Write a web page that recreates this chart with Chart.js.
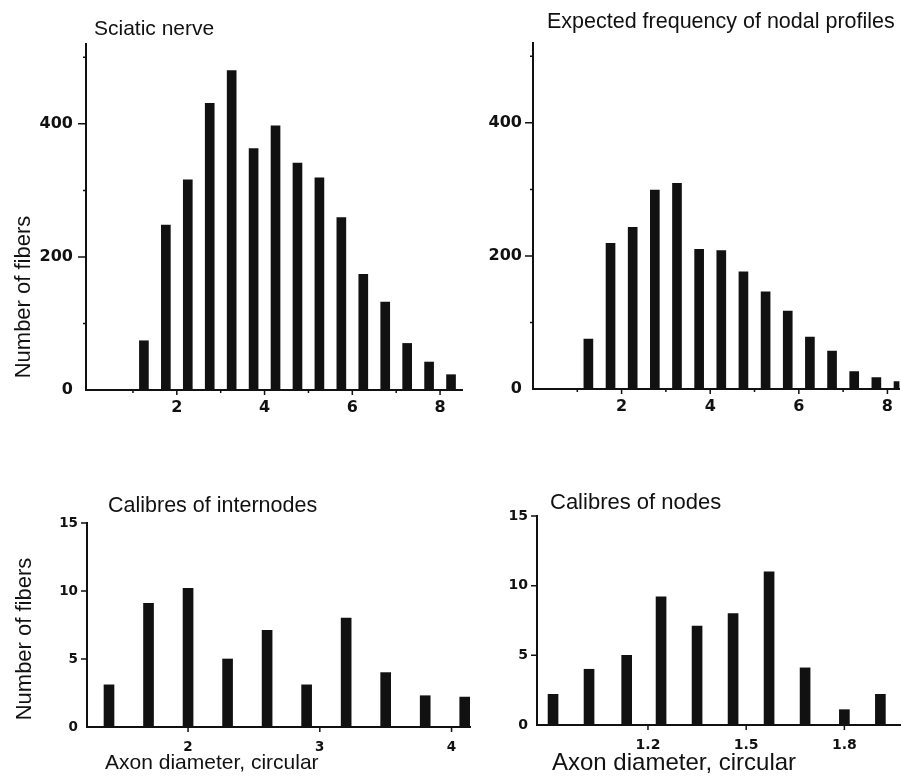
<!DOCTYPE html>
<html>
<head>
<meta charset="utf-8">
<title>Axon diameter histograms</title>
<script src="https://cdn.jsdelivr.net/npm/chart.js@4.4.1/dist/chart.umd.min.js"></script>
<style>
    body { margin: 0; background: #fff; width: 901px; height: 776px; position: relative; overflow: hidden;
           font-family: "Liberation Sans", Arial, sans-serif; color: #111; }
    canvas { position: absolute; }
    .lbl { position: absolute; white-space: nowrap; line-height: 1; }
    .ylbl { position: absolute; width: 220px; text-align: center; line-height: 1; font-size: 22px;
            transform: rotate(-90deg); white-space: nowrap; }
</style>
</head>
<body>
<canvas id="sciatic" width="480" height="440" style="left:0px;top:0px"></canvas>
<canvas id="nodal" width="441" height="440" style="left:460px;top:0px"></canvas>
<canvas id="internodes" width="480" height="296" style="left:0px;top:480px"></canvas>
<canvas id="nodes" width="441" height="296" style="left:460px;top:480px"></canvas>

<div class="lbl" style="left:94px;top:17px;font-size:21px">Sciatic nerve</div>
<div class="lbl" style="left:547px;top:11px;font-size:21.5px">Expected frequency of nodal profiles</div>
<div class="lbl" style="left:108px;top:495px;font-size:21.5px">Calibres of internodes</div>
<div class="lbl" style="left:550px;top:491px;font-size:22px">Calibres of nodes</div>
<div class="ylbl" style="left:-87px;top:286px">Number of fibers</div>
<div class="ylbl" style="left:-86px;top:628px">Number of fibers</div>
<div class="lbl" style="left:105px;top:751px;font-size:21px">Axon diameter, circular</div>
<div class="lbl" style="left:552px;top:750px;font-size:24px">Axon diameter, circular</div>

<script>
// bin centres (axon diameter) and counts
const sciaticBins = [1.25, 1.75, 2.25, 2.75, 3.25, 3.75, 4.25, 4.75, 5.25, 5.75, 6.25, 6.75, 7.25, 7.75, 8.25];
const sciaticCounts = [74, 248, 316, 431, 480, 363, 397, 341, 319, 259, 174, 132, 70, 42, 23];
const nodalCounts = [75, 219, 243, 299, 309, 210, 208, 176, 146, 117, 78, 57, 26, 17, 11];

const internodeBins = [1.4, 1.7, 2.0, 2.3, 2.6, 2.9, 3.2, 3.5, 3.8, 4.1];
const internodeCounts = [3.1, 9.1, 10.2, 5, 7.1, 3.1, 8, 4, 2.3, 2.2];

const nodeBins = [0.91, 1.02, 1.135, 1.24, 1.35, 1.46, 1.57, 1.68, 1.8, 1.91];
const nodeCounts = [2.2, 4, 5, 9.2, 7.1, 8, 11, 4.1, 1.1, 2.2];

// axis ticks
const bigYTicks = [0, 200, 400];
const bigYMinor = [100, 300, 500];
const bigXTicks = [2, 4, 6, 8];
const bigXMinor = [1, 3, 5, 7];
const smallYTicks = [0, 5, 10, 15];
const internodeXTicks = [2, 3, 4];
const nodeXTicks = [1.2, 1.5, 1.8];

const INK = "#111";

// little tick marks on the axes (major + minor), drawn through the scales
const tickMarks = {
    id: "tickMarks",
    afterDatasetsDraw(chart, args, opts) {
        let ctx = chart.ctx;
        let area = chart.chartArea;
        let xs = chart.scales.x, ys = chart.scales.y;
        ctx.save();
        ctx.strokeStyle = INK;
        ctx.lineWidth = 1.5;
        ctx.beginPath();
        opts.xMajor.forEach(v => {
            let px = xs.getPixelForValue(v);
            ctx.moveTo(px, area.bottom);
            ctx.lineTo(px, area.bottom + opts.xLen);
        });
        opts.xMinor.forEach(v => {
            let px = xs.getPixelForValue(v);
            ctx.moveTo(px, area.bottom);
            ctx.lineTo(px, area.bottom + 3);
        });
        opts.yMajor.filter(v => v > 0).forEach(v => {
            let py = ys.getPixelForValue(v);
            ctx.moveTo(area.left, py);
            ctx.lineTo(area.left - opts.yLen, py);
        });
        opts.yMinor.forEach(v => {
            let py = ys.getPixelForValue(v);
            ctx.moveTo(area.left, py);
            ctx.lineTo(area.left - 3, py);
        });
        ctx.stroke();
        ctx.restore();
    }
};

function makeHistogram(canvasId, bins, counts, cfg) {
    let points = bins.map((b, i) => ({ x: b, y: counts[i] }));
    let tickFont = { family: "'DejaVu Sans', sans-serif", size: cfg.fontSize, weight: "bold" };

    return new Chart(document.getElementById(canvasId), {
        type: "bar",
        data: {
            datasets: [{
                data: points,
                backgroundColor: INK,
                borderWidth: 0,
                barThickness: cfg.barWidth
            }]
        },
        options: {
            responsive: false,
            animation: false,
            events: [],
            layout: { padding: { top: cfg.top, right: cfg.right, left: 0, bottom: 0 } },
            scales: {
                x: {
                    type: "linear",
                    offset: false,
                    min: cfg.xMin,
                    max: cfg.xMax,
                    grid: { display: false, drawTicks: false },
                    border: { display: true, color: INK, width: 2 },
                    afterBuildTicks: scale => { scale.ticks = cfg.xTicks.map(v => ({ value: v })); },
                    afterFit: scale => { scale.height = cfg.xHeight; },
                    ticks: {
                        color: INK, font: tickFont, padding: cfg.xPad,
                        autoSkip: false, maxRotation: 0,
                        callback: v => String(v)
                    }
                },
                y: {
                    min: 0,
                    max: cfg.yMax,
                    grid: { display: false, drawTicks: false },
                    border: { display: true, color: INK, width: 2 },
                    afterBuildTicks: scale => { scale.ticks = cfg.yTicks.map(v => ({ value: v })); },
                    afterFit: scale => { scale.width = cfg.yWidth; },
                    ticks: { color: INK, font: tickFont, padding: cfg.yPad, callback: v => String(v) }
                }
            },
            plugins: {
                legend: { display: false },
                tooltip: { enabled: false },
                title: { display: false },
                tickMarks: {
                    xMajor: cfg.xTicks, xMinor: cfg.xMinor || [],
                    yMajor: cfg.yTicks, yMinor: cfg.yMinor || [],
                    xLen: 5, yLen: cfg.yLen
                }
            }
        },
        plugins: [tickMarks]
    });
}

document.addEventListener("DOMContentLoaded", function () {
    makeHistogram("sciatic", sciaticBins, sciaticCounts, {
        xMin: -0.07, xMax: 8.5, yMax: 520,
        xTicks: bigXTicks, xMinor: bigXMinor, yTicks: bigYTicks, yMinor: bigYMinor,
        top: 44, right: 18, yWidth: 86, xHeight: 50,
        fontSize: 16, xPad: 8, yPad: 13, yLen: 8, barWidth: 9
    });

    makeHistogram("nodal", sciaticBins, nodalCounts, {
        xMin: 0, xMax: 8.27, yMax: 520,
        xTicks: bigXTicks, xMinor: bigXMinor, yTicks: bigYTicks, yMinor: bigYMinor,
        top: 43, right: 0, yWidth: 73, xHeight: 51,
        fontSize: 16, xPad: 8, yPad: 11, yLen: 8, barWidth: 9
    });

    makeHistogram("internodes", internodeBins, internodeCounts, {
        xMin: 1.233, xMax: 4.14, yMax: 15,
        xTicks: internodeXTicks, yTicks: smallYTicks,
        top: 43, right: 10, yWidth: 87, xHeight: 49,
        fontSize: 13.5, xPad: 12, yPad: 9, yLen: 6, barWidth: 10
    });

    makeHistogram("nodes", nodeBins, nodeCounts, {
        xMin: 0.861, xMax: 1.973, yMax: 15,
        xTicks: nodeXTicks, yTicks: smallYTicks,
        top: 36, right: 0, yWidth: 77, xHeight: 51,
        fontSize: 14, xPad: 12, yPad: 9, yLen: 6, barWidth: 10
    });
});
</script>
</body>
</html>
